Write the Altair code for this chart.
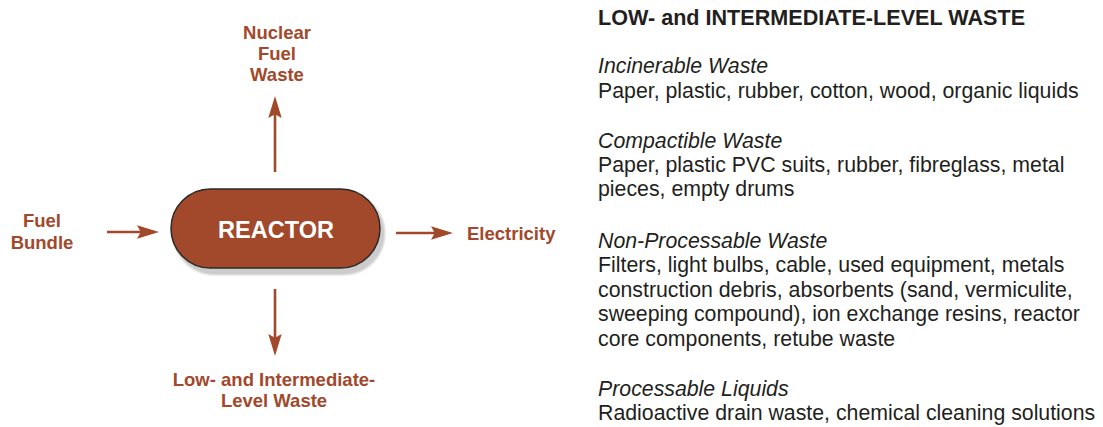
import altair as alt
import pandas as pd

# ---------------- content ----------------
BROWN = "#A2482B"
INK = "#231F20"
FONT = "Liberation Sans"

reactor_label = ["REACTOR"]
top_label = ["Nuclear", "Fuel", "Waste"]
left_label = ["Fuel", "Bundle"]
right_label = ["Electricity"]
bottom_label = ["Low- and Intermediate-", "Level Waste"]

panel_title = ["LOW- and INTERMEDIATE-LEVEL WASTE"]
categories = ["Incinerable Waste", "Compactible Waste",
              "Non-Processable Waste", "Processable Liquids"]
descriptions = [
    ["Paper, plastic, rubber, cotton, wood, organic liquids"],
    ["Paper, plastic PVC suits, rubber, fibreglass, metal",
     "pieces, empty drums"],
    ["Filters, light bulbs, cable, used equipment, metals",
     "construction debris, absorbents (sand, vermiculite,",
     "sweeping compound), ion exchange resins, reactor",
     "core components, retube waste"],
    ["Radioactive drain waste, chemical cleaning solutions"],
]

# ---------------- layout (page pixel coordinates; text y = baseline) ----------------
W, H = 1087, 419
top_label_x, top_label_y = 277, [39, 60, 81]
left_label_x, left_label_y = 42, [227, 248.5]
right_label_x, right_label_y = 467, [239.5]
bottom_label_x, bottom_label_y = 274, [385.5, 406.5]

pill_box = [171, 380, 189, 268]  # x, x2, y, y2
reactor_xy = [276, 237.5]

arrow_tail = [(275, 172), (275, 289), (107, 232), (396, 233)]
arrow_tip = [(275, 96), (275, 356), (159, 232), (453, 233)]
arrow_angle = [0, 180, 90, 90]

panel_x = 598
panel_title_y = [24.5]
category_y = [73, 147.5, 247.5, 395.5]
description_y = [[97.5], [171.5, 196], [272, 296.5, 321, 345.5], [419.5]]

# ---------------- scales (1 data unit = 1 page pixel) ----------------
xs = alt.Scale(domain=[8, 8 + W], nice=False, zero=False)
ys = alt.Scale(domain=[8, 8 + H], nice=False, zero=False, reverse=True)


def X(f="x"):
    return alt.X(f"{f}:Q", scale=xs, axis=None)


def Y(f="y"):
    return alt.Y(f"{f}:Q", scale=ys, axis=None)


# ---------------- pill and shadow ----------------
x0, x1, y0, y1 = pill_box
shadow = pd.DataFrame({
    "x": [x0 + 1, x0 + 2, x0 + 3],
    "x2": [x1 + 6, x1 + 5, x1 + 4],
    "y": [y0 + 2, y0 + 3, y0 + 4],
    "y2": [y1 + 8, y1 + 7, y1 + 6],
})
shadow_layer = alt.Chart(shadow).mark_rect(
    cornerRadius=42, color="#000000", opacity=0.07
).encode(x=X(), x2="x2:Q", y=Y(), y2="y2:Q")

pill = pd.DataFrame({"x": [x0], "x2": [x1], "y": [y0], "y2": [y1]})
pill_layer = alt.Chart(pill).mark_rect(
    cornerRadius=(y1 - y0) / 2, fill=BROWN, stroke="#2a2a2a", strokeWidth=1.5
).encode(x=X(), x2="x2:Q", y=Y(), y2="y2:Q")

reactor_df = pd.DataFrame({"x": [reactor_xy[0]], "y": [reactor_xy[1]], "t": reactor_label})
reactor_text = alt.Chart(reactor_df).mark_text(
    font=FONT, fontSize=23.5, fontWeight="bold", color="white",
    align="center", baseline="alphabetic"
).encode(x=X(), y=Y(), text="t:N")

# ---------------- arrows ----------------
HEAD = "M0,-1L0.55,0.8L0,0.5L-0.55,0.8Z"
k = 12.2  # half symbol size in px
dirs = {0: (0, -1), 180: (0, 1), 90: (1, 0), 270: (-1, 0)}
lines = pd.DataFrame({
    "x": [t[0] for t in arrow_tail],
    "y": [t[1] for t in arrow_tail],
    "x2": [tp[0] - dirs[a][0] * 10 for tp, a in zip(arrow_tip, arrow_angle)],
    "y2": [tp[1] - dirs[a][1] * 10 for tp, a in zip(arrow_tip, arrow_angle)],
})
line_layer = alt.Chart(lines).mark_rule(color=BROWN, strokeWidth=2.6).encode(
    x=X(), y=Y(), x2="x2:Q", y2="y2:Q")

heads = pd.DataFrame({
    "x": [tp[0] - dirs[a][0] * k for tp, a in zip(arrow_tip, arrow_angle)],
    "y": [tp[1] - dirs[a][1] * k for tp, a in zip(arrow_tip, arrow_angle)],
    "angle": arrow_angle,
})
head_layer = alt.Chart(heads).mark_point(
    shape=HEAD, filled=True, fill=BROWN, size=(2 * k) ** 2, opacity=1, strokeWidth=0
).encode(x=X(), y=Y(), angle=alt.Angle("angle:Q", scale=None))


# ---------------- labels ----------------
def label_layer(texts, xpos, ypos, size, weight, style, color, align):
    df = pd.DataFrame({"t": texts, "x": [xpos] * len(texts), "y": ypos})
    return alt.Chart(df).mark_text(
        font=FONT, fontSize=size, fontWeight=weight, fontStyle=style,
        color=color, align=align, baseline="alphabetic"
    ).encode(x=X(), y=Y(), text="t:N")


lbl_top = label_layer(top_label, top_label_x, top_label_y, 18.5, "bold", "normal", BROWN, "center")
lbl_left = label_layer(left_label, left_label_x, left_label_y, 18.5, "bold", "normal", BROWN, "center")
lbl_right = label_layer(right_label, right_label_x, right_label_y, 18.5, "bold", "normal", BROWN, "left")
lbl_bottom = label_layer(bottom_label, bottom_label_x, bottom_label_y, 18.5, "bold", "normal", BROWN, "center")

title_layer = label_layer(panel_title, panel_x, panel_title_y, 21.6, "bold", "normal", INK, "left")
cat_layer = label_layer(categories, panel_x, category_y, 21.3, "normal", "italic", INK, "left")
desc_texts = [line for d in descriptions for line in d]
desc_y = [y for ys_ in description_y for y in ys_]
desc_layer = label_layer(desc_texts, panel_x, desc_y, 21.3, "normal", "normal", INK, "left")

chart = alt.layer(
    shadow_layer, pill_layer, reactor_text, line_layer, head_layer,
    lbl_top, lbl_left, lbl_right, lbl_bottom,
    title_layer, cat_layer, desc_layer,
).properties(
    width=W, height=H, padding=0, background="white",
    autosize=alt.AutoSizeParams(type="none"),
).configure_view(stroke=None)

chart.save("out.html", embed_options={"renderer": "svg", "actions": False})
